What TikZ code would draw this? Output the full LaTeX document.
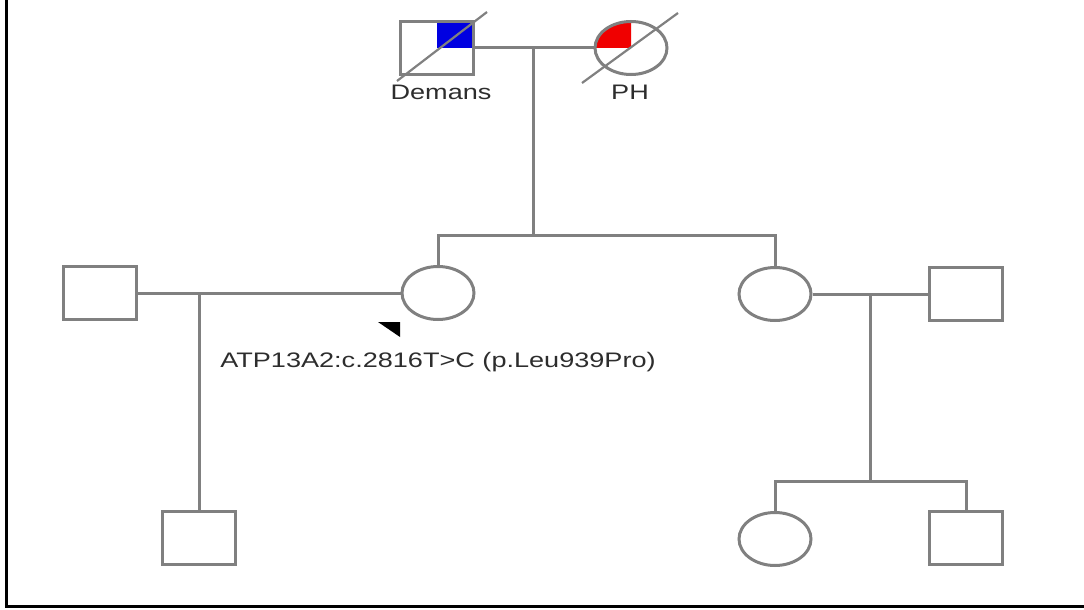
\documentclass[tikz,border=0pt]{standalone}
\usepackage{fontspec}
\setmainfont{Liberation Sans}
\usetikzlibrary{shapes.geometric}
\definecolor{pedgray}{RGB}{128,128,128}
\definecolor{txtgray}{RGB}{45,45,45}
\definecolor{pedblue}{RGB}{0,0,225}
\definecolor{pedred}{RGB}{240,0,0}

\begin{document}
\begin{tikzpicture}[x=1pt, y=-1pt,
  male/.style={draw=pedgray, line width=3pt, rectangle, minimum width=73pt,
    minimum height=53pt, inner sep=0pt},
  female/.style={draw=pedgray, line width=3pt, ellipse, minimum width=72pt,
    minimum height=53pt, inner sep=0pt},
  link/.style={draw=pedgray, line width=3pt},
  deceased/.style={draw=pedgray, line width=2.2pt},
  tag/.style={text=txtgray, font=\fontsize{21}{25}\selectfont, inner sep=0pt,
    xscale=1.29}]
\useasboundingbox (0,0) rectangle (1084,610);
% frame: only the left and bottom edges are left in view
\draw[line width=3pt] (6,0) -- (6,606) -- (1084,606);

% affected quadrants, filled before the symbols go on top
\fill[pedblue] (437,48) rectangle (474,20);
\begin{scope}
  \clip (631,48) rectangle (590,15);
  \fill[pedred] (631,48) ellipse[x radius=36, y radius=26.5];
\end{scope}

% generation I
\node[male]   (dad) at (437,48) {};
\node[female] (mom) at (631,48) {};
\draw[deceased] (397,81) -- (487,12);
\draw[deceased] (582,83) -- (678,13);
\node[tag] (demans) at (441,92) {Demans};
\node[tag] (ph)     at (630,92) {PH};

% generation II
\node[male]   (h1) at (100,293) {};
\node[female] (d1) at (438,293) {};
\node[female] (d2) at (775,294) {};
\node[male]   (h2) at (966,294) {};

% generation III
\node[male]   (s1) at (199,538) {};
\node[female] (g1) at (775,539) {};
\node[male]   (g2) at (966,538) {};

% marriage and sibship lines
\coordinate (drop1) at (533,48);
\coordinate (sib1)  at (533,235);
\coordinate (sib2)  at (870,481);
\draw[link] (dad.east) -- (mom.west);
\draw[link] (drop1) -- (sib1);
\draw[link] (d1.north) |- (sib1) -| (d2.north);
\draw[link] (h1.east) -- (d1.west);
\draw[link] (s1.north) -- (s1.north |- h1.east);
\draw[link] (d2.east) -- (h2.west);
\draw[link] (sib2 |- d2.east) -- (sib2);
\draw[link] (g1.north) |- (sib2) -| (g2.north);

% proband marker and variant
\fill (378,322) -- (400,322) -- (400,337) -- cycle;
\node[tag, anchor=west] (variant) at (220,362) {ATP13A2:c.2816T>C (p.Leu939Pro)};
\end{tikzpicture}
\end{document}
